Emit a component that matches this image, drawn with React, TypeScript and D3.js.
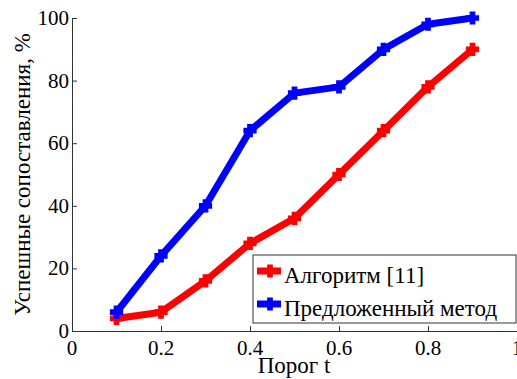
import React from 'react';
import * as d3 from 'd3';

const thresholds = [0.1, 0.2, 0.3, 0.4, 0.5, 0.6, 0.7, 0.8, 0.9];
const algorithmValues = [4, 6, 16, 28, 36, 50, 64, 78, 90];
const proposedValues = [6, 24, 40, 64, 76, 78, 90, 98, 100];
const xTicks = [0, 0.2, 0.4, 0.6, 0.8, 1];
const yTicks = [0, 20, 40, 60, 80, 100];
const seriesNames = ['Алгоритм [11]', 'Предложенный метод'];

const width = 517;
const height = 379;
const margin = { top: 18, right: 0, bottom: 48, left: 72 };
const font = 'Times New Roman';

const x = d3.scaleLinear().domain([0, 1]).range([margin.left, width - margin.right]);
const y = d3.scaleLinear().domain([0, 100]).range([height - margin.bottom, margin.top]);

const line = d3.line<number>()
  .x((_, i) => x(thresholds[i]))
  .y(d => y(d));

const plus = d3.symbol().type(d3.symbolCross).size(70)() as string;

const series = [
  { name: seriesNames[0], values: algorithmValues, color: '#ff0000' },
  { name: seriesNames[1], values: proposedValues, color: '#0000ff' },
];

const App = () => {
  const x0 = x(0);
  const y0 = y(0);

  return (
    <svg width={width} height={height} style={{ position: 'absolute', left: 0, top: 0 }}>
      {/* axes, MATLAB style with inward ticks */}
      <line x1={x0} x2={x(1)} y1={y0 + 0.5} y2={y0 + 0.5} stroke="#333" />
      <line x1={x0 + 0.5} x2={x0 + 0.5} y1={y(100)} y2={y0} stroke="#333" />
      {xTicks.map(t => (
        <g key={`x${t}`}>
          <line x1={x(t) + 0.5} x2={x(t) + 0.5} y1={y0} y2={y0 - 5} stroke="#333" />
          <text x={x(t)} y={y0 + 24} textAnchor="middle" fontSize={21} fontFamily={font}>{String(t)}</text>
        </g>
      ))}
      {yTicks.map(t => (
        <g key={`y${t}`}>
          <line x1={x0} x2={x0 + 5} y1={y(t) + 0.5} y2={y(t) + 0.5} stroke="#333" />
          <text x={x0 - 3} y={y(t) + 7} textAnchor="end" fontSize={21} fontFamily={font}>{String(t)}</text>
        </g>
      ))}

      {/* axis titles */}
      <text x={294} y={373} textAnchor="middle" fontSize={23} fontFamily={font}>Порог t</text>
      <text
        transform={`translate(30,${(y(0) + y(100)) / 2}) rotate(-90)`}
        textAnchor="middle"
        fontSize={23}
        fontFamily={font}
      >
        Успешные сопоставления, %
      </text>

      {/* series */}
      {series.map(s => (
        <g key={s.name}>
          <path d={line(s.values) as string} fill="none" stroke={s.color} strokeWidth={7} strokeLinejoin="round" />
          {s.values.map((v, i) => (
            <path
              key={i}
              d={plus}
              transform={`translate(${x(thresholds[i])},${y(v)})`}
              fill={s.color}
              stroke={s.color}
              strokeWidth={2}
            />
          ))}
        </g>
      ))}

      {/* legend */}
      <g transform="translate(253,255)">
        <rect width={263} height={68} fill="#fff" stroke="#333" />
        {series.map((s, i) => {
          const cy = 16 + i * 33;
          return (
            <g key={s.name}>
              <line x1={4} x2={28} y1={cy} y2={cy} stroke={s.color} strokeWidth={7} />
              <path d={plus} transform={`translate(17,${cy})`} fill={s.color} stroke={s.color} strokeWidth={2} />
              <text x={31} y={cy + 12} fontSize={23} fontFamily={font}>{s.name}</text>
            </g>
          );
        })}
      </g>
    </svg>
  );
};

export default App;
